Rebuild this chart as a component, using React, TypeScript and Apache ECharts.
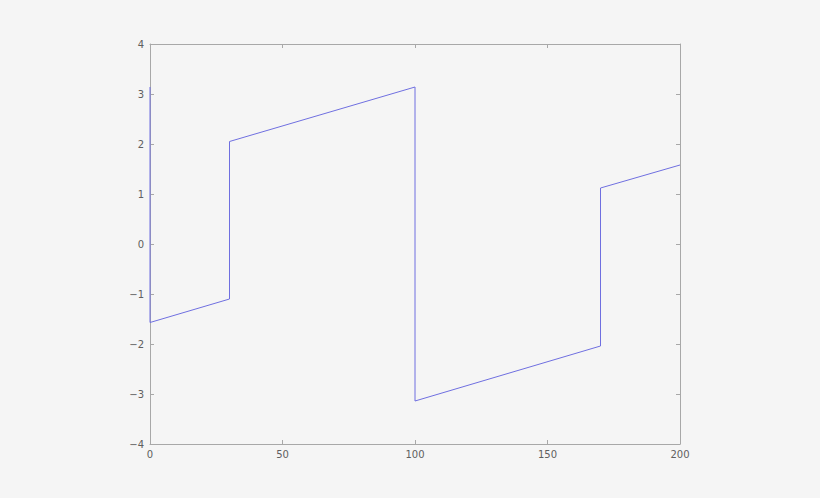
import { useEffect, useRef } from "react";
import * as echarts from "echarts";

// phase trace: vertical jumps are where the angle wraps
const xValues = [0, 0, 30, 30, 100, 100, 170, 170, 200];
const yValues = [3.14, -1.57, -1.1, 2.05, 3.14, -3.14, -2.04, 1.12, 1.58];
const xTicks = [0, 50, 100, 150, 200];
const yTicks = [-4, -3, -2, -1, 0, 1, 2, 3, 4];

const axisColor = "#a8a8a8";
const labelColor = "#606060";

export default function App() {
  const ref = useRef<HTMLDivElement | null>(null);

  useEffect(() => {
    if (!ref.current) {
      return;
    }
    const instance = echarts.init(ref.current, undefined, { renderer: "svg" });
    const points = xValues.map((x, i) => [x, yValues[i]]);
    const tickStyle = { show: true, inside: true, length: 4, lineStyle: { color: axisColor } };
    const lineStyle = { show: true, onZero: false, lineStyle: { color: axisColor, width: 1 } };
    const labelStyle = {
      color: labelColor,
      fontSize: 10,
      fontFamily: "DejaVu Sans",
      formatter: (v: number) => String(v).replace("-", "\u2212")
    };

    instance.setOption({
      animation: false,
      backgroundColor: "#f5f5f5",
      grid: { left: 150, right: 140, top: 44, bottom: 54 },
      xAxis: [
        {
          type: "value",
          position: "bottom",
          min: xTicks[0],
          max: xTicks[xTicks.length - 1],
          interval: 50,
          axisLine: lineStyle,
          axisTick: tickStyle,
          axisLabel: { ...labelStyle, margin: 5 },
          splitLine: { show: false }
        },
        {
          type: "value",
          position: "top",
          min: xTicks[0],
          max: xTicks[xTicks.length - 1],
          interval: 50,
          axisLine: lineStyle,
          axisTick: tickStyle,
          axisLabel: { show: false },
          splitLine: { show: false }
        }
      ],
      yAxis: [
        {
          type: "value",
          position: "left",
          min: yTicks[0],
          max: yTicks[yTicks.length - 1],
          interval: 1,
          axisLine: lineStyle,
          axisTick: tickStyle,
          axisLabel: { ...labelStyle, margin: 6 },
          splitLine: { show: false }
        },
        {
          type: "value",
          position: "right",
          min: yTicks[0],
          max: yTicks[yTicks.length - 1],
          interval: 1,
          axisLine: lineStyle,
          axisTick: tickStyle,
          axisLabel: { show: false },
          splitLine: { show: false }
        }
      ],
      series: [
        {
          type: "line",
          data: points,
          showSymbol: false,
          symbol: "none",
          lineStyle: { color: "#6f6fe0", width: 1 }
        }
      ]
    });

    return () => {
      instance.dispose();
    };
  }, []);

  return (
    <div
      ref={ref}
      style={{ position: "absolute", left: 0, top: 0, width: 820, height: 498 }}
    />
  );
}
